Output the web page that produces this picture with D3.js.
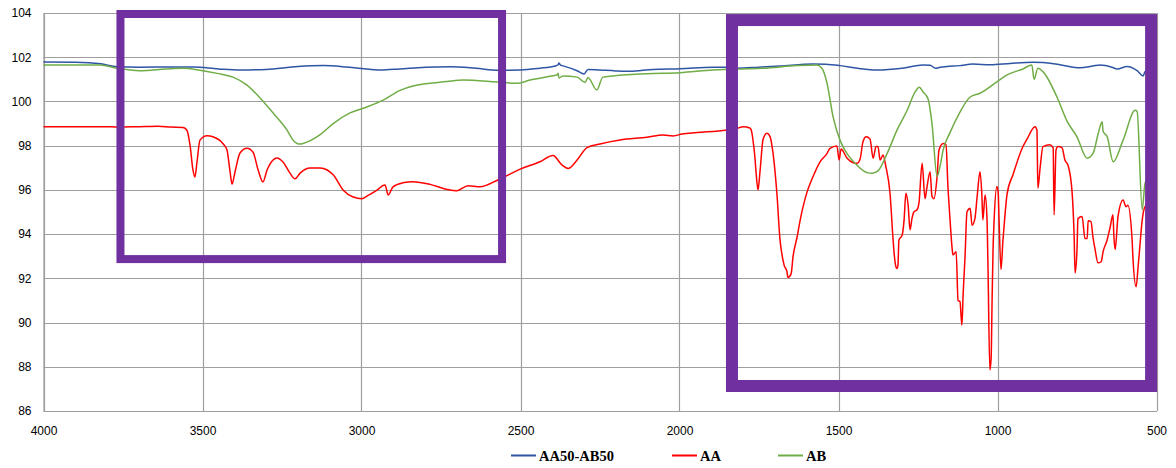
<!DOCTYPE html>
<html><head><meta charset="utf-8">
<script src="https://cdn.jsdelivr.net/npm/d3@7"></script>
<style>
html,body{margin:0;padding:0;background:#fff;}
svg{display:block;}
</style></head>
<body>
<svg id="chart" width="1176" height="468"></svg>
<script>
const seriesNames = ["AA50-AB50", "AA", "AB"];
const seriesColors = ["#2E55A3", "#FF0000", "#70AD47"];
const xTicks = [4000, 3500, 3000, 2500, 2000, 1500, 1000, 500];
const yTicks = [86, 88, 90, 92, 94, 96, 98, 100, 102, 104];

// [wavenumber, %T]
const blendData = [[4000,101.78],[3900,101.77],[3820,101.7],[3769,101.57],[3700,101.55],[3600,101.56],[3530,101.56],[3450,101.47],[3380,101.42],[3300,101.45],[3200,101.58],[3120,101.62],[3050,101.56],[3000,101.49],[2940,101.42],[2880,101.47],[2800,101.55],[2720,101.57],[2640,101.5],[2570,101.41],[2500,101.42],[2440,101.5],[2391,101.6],[2382,101.66],[2379,101.74],[2374,101.64],[2369,101.62],[2322,101.39],[2300,101.24],[2288,101.45],[2250,101.42],[2200,101.38],[2156,101.36],[2083,101.45],[1998,101.48],[1895,101.55],[1851,101.55],[1819,101.5],[1750,101.55],[1684,101.6],[1580,101.69],[1540,101.68],[1495,101.62],[1440,101.5],[1379,101.42],[1300,101.5],[1234,101.65],[1212,101.64],[1195,101.5],[1180,101.55],[1159,101.58],[1120,101.62],[1077,101.69],[1023,101.66],[960,101.72],[888,101.77],[857,101.76],[800,101.65],[740,101.52],[700,101.6],[677,101.65],[640,101.55],[624,101.47],[592,101.58],[561,101.39],[542,101.15],[536,101.35],[520,101.42],[502,101.5]];

const aaData = [[4000,98.86],[3900,98.85],[3800,98.86],[3769,98.84],[3700,98.86],[3640,98.88],[3600,98.84],[3561,98.82],[3549,98.7],[3539,98.0],[3530,96.9],[3524,96.58],[3517,97.3],[3508,98.25],[3486,98.45],[3467,98.4],[3436,98.1],[3423,97.8],[3414,96.9],[3407,96.26],[3398,96.8],[3382,97.67],[3360,97.88],[3341,97.7],[3325,96.9],[3310,96.36],[3297,96.9],[3278,97.35],[3266,97.44],[3247,97.26],[3225,96.76],[3209,96.5],[3193,96.76],[3162,96.99],[3130,96.99],[3108,96.9],[3089,96.68],[3058,96.0],[3026,95.68],[2998,95.6],[2983,95.72],[2950,96.0],[2932,96.2],[2926,96.22],[2916,95.77],[2901,96.14],[2870,96.32],[2838,96.37],[2784,96.25],[2731,96.02],[2700,95.96],[2665,96.19],[2627,96.14],[2571,96.45],[2501,96.94],[2439,97.27],[2398,97.55],[2369,97.12],[2350,96.97],[2322,97.35],[2291,97.91],[2250,98.08],[2187,98.26],[2102,98.38],[2052,98.48],[2020,98.44],[1992,98.53],[1945,98.59],[1851,98.71],[1819,98.78],[1800,98.86],[1788,98.84],[1778,98.79],[1772,98.56],[1769,98.26],[1763,97.5],[1759,96.75],[1753,96.0],[1747,96.8],[1737,98.3],[1725,98.56],[1715,98.4],[1706,97.67],[1693,95.7],[1684,93.75],[1678,93.1],[1671,92.6],[1662,92.3],[1659,92.04],[1649,92.2],[1643,92.98],[1630,93.88],[1621,94.6],[1599,95.9],[1583,96.5],[1558,97.27],[1536,97.65],[1527,97.88],[1505,97.99],[1498,97.35],[1492,97.85],[1473,97.43],[1454,97.23],[1442,97.2],[1432,97.4],[1423,98.18],[1413,98.4],[1401,98.3],[1391,97.43],[1382,97.96],[1376,97.96],[1369,97.35],[1360,97.58],[1351,97.05],[1338,95.85],[1329,93.88],[1325,93.13],[1319,92.5],[1316,92.45],[1313,92.6],[1310,93.73],[1300,93.95],[1294,94.6],[1288,95.85],[1281,95.3],[1275,94.2],[1269,94.7],[1263,95.0],[1253,95.1],[1247,95.4],[1237,97.2],[1228,95.6],[1222,96.1],[1212,96.82],[1206,95.7],[1200,95.6],[1190,96.6],[1184,97.8],[1171,98.1],[1162,98.05],[1156,96.2],[1149,94.6],[1143,93.4],[1140,93.06],[1130,93.2],[1124,91.0],[1118,90.95],[1112,89.88],[1108,91.3],[1102,93.0],[1096,95.0],[1086,95.17],[1080,94.4],[1071,94.7],[1064,95.7],[1055,96.82],[1049,95.7],[1046,94.64],[1039,95.77],[1033,94.7],[1030,92.6],[1024,87.85],[1020,88.4],[1017,91.0],[1014,93.3],[1011,94.5],[1002,96.15],[998,95.9],[995,94.6],[989,92.4],[983,93.7],[976,94.95],[970,95.8],[951,96.7],[920,97.96],[907,98.3],[882,98.86],[876,98.7],[873,96.07],[866,97.0],[857,97.96],[835,98.04],[825,97.9],[822,94.87],[816,97.8],[810,97.96],[797,97.9],[788,97.35],[778,97.1],[766,96.0],[759,93.9],[756,92.24],[750,93.3],[747,94.7],[734,94.8],[725,93.8],[718,93.8],[715,94.6],[706,94.56],[700,93.88],[693,93.3],[684,92.7],[674,92.75],[668,93.2],[656,93.7],[646,94.3],[637,94.87],[634,93.9],[630,93.3],[621,94.8],[605,95.54],[596,95.24],[590,95.3],[577,93.8],[574,92.9],[564,91.62],[558,92.5],[552,93.5],[546,94.5],[536,95.24],[502,95.6]];

const abData = [[4000,101.65],[3822,101.65],[3769,101.5],[3697,101.39],[3612,101.47],[3561,101.5],[3508,101.41],[3454,101.27],[3404,101.1],[3360,100.74],[3319,100.16],[3278,99.48],[3234,98.7],[3215,98.25],[3193,98.07],[3184,98.1],[3130,98.5],[3089,99.0],[3036,99.48],[2983,99.75],[2932,100.06],[2879,100.5],[2838,100.7],[2731,100.9],[2681,100.97],[2574,100.88],[2511,100.82],[2470,100.97],[2398,101.16],[2385,101.2],[2382,101.27],[2379,101.06],[2366,101.15],[2322,101.1],[2297,100.86],[2288,101.08],[2260,100.52],[2241,101.1],[2209,101.15],[2102,101.25],[1999,101.3],[1895,101.42],[1819,101.47],[1737,101.5],[1630,101.62],[1568,101.65],[1552,101.5],[1536,100.82],[1517,99.3],[1495,98.24],[1473,97.64],[1442,97.12],[1410,96.78],[1394,96.75],[1375,96.87],[1347,97.65],[1316,98.7],[1284,99.6],[1259,100.43],[1246,100.64],[1234,100.43],[1218,100.1],[1206,99.0],[1190,96.6],[1181,97.05],[1171,97.8],[1149,98.6],[1118,99.52],[1086,100.2],[1055,100.37],[1001,100.9],[970,101.2],[920,101.47],[892,101.65],[885,101.0],[873,101.5],[857,101.35],[813,100.2],[781,99.1],[750,98.4],[718,97.43],[699,97.67],[683,98.56],[671,99.08],[668,98.65],[655,98.4],[636,97.27],[605,98.25],[567,99.6],[561,99.55],[545,95.1],[536,96.3],[501,97.0]];

const W = 1176, H = 468;
const plot = {left: 43.5, right: 1156.5, top: 13, bottom: 411};
const x = d3.scaleLinear().domain([4000, 500]).range([plot.left, plot.right]);
const y = d3.scaleLinear().domain([86, 104]).range([plot.bottom, plot.top]);

const svg = d3.select("#chart");
const gridColor = "#9e9e9e";

// horizontal gridlines
svg.append("g").selectAll("line").data(yTicks).join("line")
  .attr("x1", plot.left).attr("x2", plot.right)
  .attr("y1", d => Math.round(y(d)) + 0.5).attr("y2", d => Math.round(y(d)) + 0.5)
  .attr("stroke", gridColor).attr("stroke-width", 1.2);
// vertical gridlines
svg.append("g").selectAll("line").data(xTicks).join("line")
  .attr("y1", plot.top).attr("y2", plot.bottom)
  .attr("x1", d => Math.round(x(d)) + 0.5).attr("x2", d => Math.round(x(d)) + 0.5)
  .attr("stroke", gridColor).attr("stroke-width", 1.2);

// axes
const yAxis = d3.axisLeft(y).tickValues(yTicks).tickSize(0).tickPadding(12);
const gy = svg.append("g").attr("transform", `translate(${plot.left},0)`).call(yAxis);
gy.select(".domain").attr("stroke", gridColor).attr("stroke-width", 1.2);
gy.selectAll("text").attr("font-family", "'Liberation Sans', Arial, sans-serif").attr("font-size", "12px").attr("fill", "#000");

const xAxis = d3.axisBottom(x).tickValues(xTicks).tickSize(0).tickPadding(15).tickFormat(d3.format("d"));
const gx = svg.append("g").attr("transform", `translate(0,${plot.bottom})`).call(xAxis);
gx.select(".domain").attr("stroke", gridColor).attr("stroke-width", 1.2);
gx.selectAll("text").attr("font-family", "'Liberation Sans', Arial, sans-serif").attr("font-size", "12px").attr("fill", "#000");

// series
const line = d3.line().x(d => x(d[0])).y(d => y(d[1])).curve(d3.curveMonotoneX);
const allSeries = [blendData, aaData, abData];
const drawOrder = [0, 1, 2];
drawOrder.forEach(i => {
  svg.append("path").datum(allSeries[i])
    .attr("fill", "none").attr("stroke", seriesColors[i])
    .attr("stroke-width", 1.5).attr("stroke-linejoin", "round")
    .attr("d", line);
});

// highlight boxes (purple annotation rectangles)
const boxRanges = [
  {x0: 3758, x1: 2558, y0: 103.955, y1: 92.87, sw: 8},
  {x0: 1835, x1: 517, y0: 103.68, y1: 87.13, sw: 12}
];
svg.append("g").selectAll("rect").data(boxRanges).join("rect")
  .attr("x", d => x(d.x0)).attr("y", d => y(d.y0))
  .attr("width", d => x(d.x1) - x(d.x0)).attr("height", d => y(d.y1) - y(d.y0))
  .attr("fill", "none").attr("stroke", "#7030A0").attr("stroke-width", d => d.sw);

// legend
const legendItems = [
  {name: seriesNames[0], color: seriesColors[0], lx: 511},
  {name: seriesNames[1], color: seriesColors[1], lx: 672},
  {name: seriesNames[2], color: seriesColors[2], lx: 778}
];
const lg = svg.append("g");
legendItems.forEach(it => {
  lg.append("line").attr("x1", it.lx).attr("x2", it.lx + 25)
    .attr("y1", 455.5).attr("y2", 455.5).attr("stroke", it.color).attr("stroke-width", 2);
  lg.append("text").attr("x", it.lx + 28).attr("y", 460.5)
    .attr("font-family", "'Liberation Serif', 'Times New Roman', serif")
    .attr("font-weight", "bold").attr("font-size", "14.5px").attr("fill", "#000")
    .text(it.name);
});
</script>
</body></html>
